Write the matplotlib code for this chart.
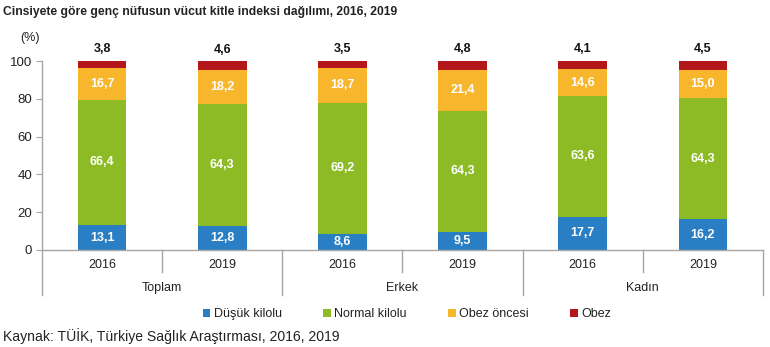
import matplotlib
matplotlib.use("Agg")
import matplotlib.pyplot as plt
import matplotlib.transforms as mtransforms
from matplotlib.patches import Patch

plt.rcParams['font.family'] = ['Liberation Sans', 'DejaVu Sans']

# Data
groups = ["Toplam", "Erkek", "Kadın"]
years = ["2016", "2019", "2016", "2019", "2016", "2019"]
dusuk = [13.1, 12.8, 8.6, 9.5, 17.7, 16.2]
normal = [66.4, 64.3, 69.2, 64.3, 63.6, 64.3]
obez_oncesi = [16.7, 18.2, 18.7, 21.4, 14.6, 15.0]
obez = [3.8, 4.6, 3.5, 4.8, 4.1, 4.5]

series_names = ["Düşük kilolu", "Normal kilolu", "Obez öncesi", "Obez"]
series_vals = [dusuk, normal, obez_oncesi, obez]
colors = ["#2a7fc4", "#8cbb26", "#f8b62c", "#b3171c"]
axis_gray = "#a6a6a6"

def fmt(v):
    return f"{v:.1f}".replace(".", ",")

fig = plt.figure(figsize=(7.70, 3.47), dpi=100)
W, H = 770, 347
ax_left, ax_right, ax_top, ax_bottom = 42, 763, 61, 250
ax = fig.add_axes([ax_left / W, 1 - ax_bottom / H,
                   (ax_right - ax_left) / W, (ax_bottom - ax_top) / H])

x = list(range(len(years)))
bottoms = [0.0] * len(years)
bar_w = 0.405
for name, vals, col in zip(series_names, series_vals, colors):
    ax.bar(x, vals, bottom=bottoms, width=bar_w, color=col, label=name, zorder=2)
    for xi, b, v in zip(x, bottoms, vals):
        if name == "Obez":
            ax.annotate(fmt(v), (xi, b + v), xytext=(0, 4), textcoords="offset points",
                        ha="center", va="bottom", fontsize=9, fontweight="bold",
                        color="#111111", annotation_clip=False)
        else:
            ax.text(xi, b + v / 2, fmt(v), ha="center", va="center", fontsize=9,
                    fontweight="bold", color="white")
    bottoms = [b + v for b, v in zip(bottoms, vals)]

ax.set_xlim(-0.5, len(years) - 0.5)
ax.set_ylim(0, 100)
ax.set_yticks(range(0, 101, 20))
ax.tick_params(axis="y", length=4, color=axis_gray, labelsize=9.5, labelcolor="#222222", pad=3)
ax.set_xticks([])
for s in ["top", "right"]:
    ax.spines[s].set_visible(False)
for s in ["left", "bottom"]:
    ax.spines[s].set_color(axis_gray)
    ax.spines[s].set_linewidth(1.0)

trans = mtransforms.blended_transform_factory(ax.transData, ax.transAxes)
px = 1.0 / (ax_bottom - ax_top)

# Year labels and group labels under the axis
for xi, yr in zip(x, years):
    ax.text(xi, -15 * px, yr, transform=trans, ha="center", va="center",
            fontsize=9, color="#222222")
for gi, g in enumerate(groups):
    ax.text(2 * gi + 0.5, -38 * px, g, transform=trans, ha="center", va="center",
            fontsize=9, color="#222222")

# Category separators: short within groups, long between groups
for sx in [0.5, 2.5, 4.5]:
    ax.plot([sx, sx], [0, -22 * px], transform=trans, color=axis_gray, lw=1.0, clip_on=False)
for sx in [-0.5, 1.5, 3.5, 5.5]:
    ax.plot([sx, sx], [0, -45 * px], transform=trans, color=axis_gray, lw=1.0, clip_on=False)

fig.text(3 / W, 1 - 12 / H, "Cinsiyete göre genç nüfusun vücut kitle indeksi dağılımı, 2016, 2019",
         ha="left", va="center", fontsize=8.7, fontweight="bold", color="#222222")
fig.text(30 / W, 1 - 38 / H, "(%)", ha="center", va="center", fontsize=9, color="#222222")

handles = [Patch(facecolor=c, edgecolor="none") for c in colors]
fig.legend(handles, series_names, loc="center", bbox_to_anchor=(407 / W, 1 - 314 / H),
           ncol=4, frameon=False, fontsize=9, handlelength=0.6, handleheight=0.6,
           handletextpad=0.3, columnspacing=3.3, labelcolor="#222222")

fig.text(3 / W, 1 - 336 / H, "Kaynak: TÜİK, Türkiye Sağlık Araştırması, 2016, 2019",
         ha="left", va="center", fontsize=10.1, color="#222222")

fig.savefig("out.png", dpi=100)
